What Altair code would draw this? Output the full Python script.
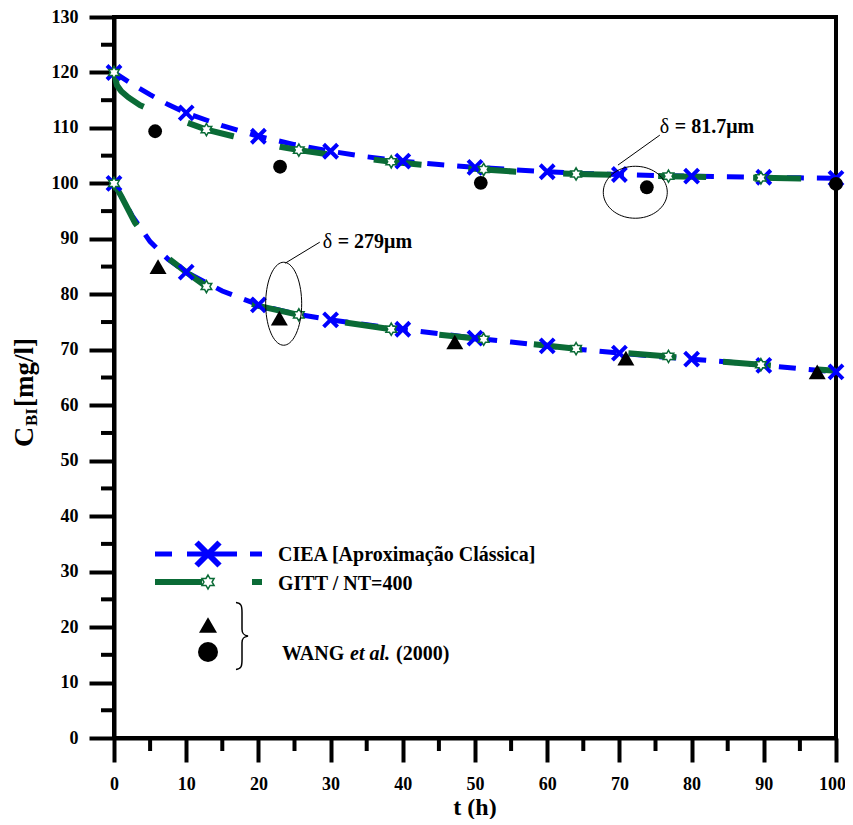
import altair as alt
import pandas as pd
import numpy as np

# ---------------- data ----------------
ciea_t = [0, 2.5, 5, 7.5, 10, 15, 20, 25, 30, 35, 40, 45, 50, 55, 60, 65, 70, 75, 80, 85, 90, 95, 100]
ciea_upper = [120.0, 117.9, 116.0, 114.2, 112.7, 110.4, 108.5, 107.0, 105.8, 104.8, 104.0, 103.4, 102.9,
              102.5, 102.1, 101.8, 101.6, 101.4, 101.3, 101.2, 101.1, 101.0, 100.9]
ciea_lower = [100.0, 94.2, 89.5, 86.3, 84.0, 80.6, 78.1, 76.5, 75.4, 74.5, 73.7, 72.9, 72.1,
              71.4, 70.7, 70.0, 69.4, 68.8, 68.3, 67.8, 67.2, 66.6, 66.0]

gitt_t_upper = [0, 0.4, 1, 2, 3.6, 6, 8, 10, 12.8, 16.5, 20, 23, 25.6, 29.4, 34, 38.4, 44, 51.2, 57,
                64, 70, 76.8, 83, 89.6, 95, 100]
gitt_upper = [120.0, 117.7, 116.6, 115.5, 114.1, 112.7, 111.8, 111.0, 109.7, 108.5, 107.4, 106.6, 106.0,
              105.3, 104.6, 103.9, 103.2, 102.5, 102.0, 101.7, 101.5, 101.3, 101.1, 101.0, 100.9, 100.8]
gitt_t_lower = [0, 1, 2, 2.9, 5, 7.8, 10, 12.8, 16, 20, 25.6, 30, 38.4, 45, 51.2, 58, 64, 70, 76.8,
                83, 89.6, 95, 100]
gitt_lower = [100.0, 97.7, 95.2, 92.9, 89.3, 86.2, 84.0, 81.4, 79.5, 77.9, 76.3, 75.3, 73.7, 72.7,
              71.9, 71.0, 70.2, 69.5, 68.8, 68.0, 67.3, 66.7, 66.2]
gitt_star_t = [0, 12.8, 25.6, 38.4, 51.2, 64, 76.8, 89.6]

wang_circle_t = [5.7, 23.0, 50.8, 73.8, 100.0]
wang_circle_c = [109.4, 103.0, 100.1, 99.3, 99.9]
wang_tri_t = [6.1, 22.9, 47.2, 70.9, 97.4]
wang_tri_c = [85.0, 75.7, 71.4, 68.5, 66.0]

x_ticks = list(range(0, 101, 10))
x_minor = list(range(5, 100, 10))
y_ticks = list(range(0, 131, 10))
y_minor = list(range(5, 130, 10))

legend_ciea = "CIEA [Aproximação Clássica]"
legend_gitt = "GITT / NT=400"

# ---------------- tables ----------------
ciea_df = pd.DataFrame({"t": ciea_t * 2, "c": ciea_upper + ciea_lower,
                        "curve": ["upper"] * len(ciea_t) + ["lower"] * len(ciea_t)})
ciea_mk = ciea_df[ciea_df["t"].isin(x_ticks)]
gitt_df = pd.DataFrame({"t": gitt_t_upper + gitt_t_lower, "c": gitt_upper + gitt_lower,
                        "curve": ["upper"] * len(gitt_t_upper) + ["lower"] * len(gitt_t_lower)})
gitt_mk = gitt_df[gitt_df["t"].isin(gitt_star_t)]
circ_df = pd.DataFrame({"t": wang_circle_t, "c": wang_circle_c})
tri_df = pd.DataFrame({"t": wang_tri_t, "c": wang_tri_c})
one = pd.DataFrame({"k": [0]})

# ---------------- styles ----------------
FONT = "Liberation Serif"
BLUE = "#0000FF"
GREEN = "#0A6B36"
xs = alt.Scale(domain=[0, 100], nice=False, zero=False)
ys = alt.Scale(domain=[0, 130], nice=False, zero=False)

X_PATH = "M -1 -1 L 1 1 M -1 1 L 1 -1"
_pts = []
for k in range(12):
    a = -np.pi / 2 + k * np.pi / 6
    r = 1.0 if k % 2 == 0 else 0.577
    _pts.append(f"{r*np.cos(a):.3f} {r*np.sin(a):.3f}")
STAR_PATH = "M " + " L ".join(_pts) + " Z"


def ellipse_path(rx, ry):
    p = []
    for k in range(72):
        a = 2 * np.pi * k / 72
        p.append(f"{rx*np.cos(a):.3f} {ry*np.sin(a):.3f}")
    return "M " + " L ".join(p) + " Z"


BRACE_PATH = ("M -0.18 -1 C -0.02 -0.98 0 -0.9 0 -0.7 L 0 -0.2 C 0 -0.06 0.06 -0.02 0.18 0 "
              "C 0.06 0.02 0 0.06 0 0.2 L 0 0.7 C 0 0.9 -0.02 0.98 -0.18 1")

x_axis = alt.Axis(values=x_ticks, title=None, grid=False, tickSize=24, tickWidth=4, tickColor="black",
                  domainWidth=4, domainColor="black", labelFont=FONT, labelFontWeight="bold",
                  labelFontSize=18, labelColor="black", labelPadding=13, labelFlush=False,
                  labelOverlap=False, format="d",
                  labelOffset={"condition": {"test": "datum.value === 100", "value": -4}, "value": 0})
y_axis = alt.Axis(values=y_ticks, title=None, grid=False, tickSize=25, tickWidth=4, tickColor="black",
                  domainWidth=4, domainColor="black", labelFont=FONT, labelFontWeight="bold",
                  labelFontSize=18, labelColor="black", labelPadding=11, labelFlush=False,
                  labelOverlap=False, format="d")


def X(**kw):
    return alt.X("t:Q", scale=xs, axis=x_axis, **kw)


def Y(**kw):
    return alt.Y("c:Q", scale=ys, axis=y_axis, **kw)


# ---------------- layers ----------------
blue_lines = alt.Chart(ciea_df).mark_line(color=BLUE, strokeWidth=5, strokeDash=[17, 13],
                                          strokeCap="butt").encode(
    x=X(), y=Y(), detail="curve:N", order="t:Q")

minor_x = alt.Chart(pd.DataFrame({"t": x_minor})).mark_rule(color="black", strokeWidth=4).encode(
    x=X(), y=alt.value(721), y2=alt.value(734))
minor_y = alt.Chart(pd.DataFrame({"c": y_minor})).mark_rule(color="black", strokeWidth=4).encode(
    y=Y(), x=alt.value(0), x2=alt.value(-13))

green_lines = alt.Chart(gitt_df).mark_line(color=GREEN, strokeWidth=6, strokeDash=[48, 47],
                                           strokeCap="butt").encode(
    x=X(), y=Y(), detail="curve:N", order="t:Q")

blue_x = alt.Chart(ciea_mk).mark_point(shape=X_PATH, filled=False, color=BLUE, strokeWidth=4,
                                       size=196, opacity=1).encode(x=X(), y=Y())
green_star = alt.Chart(gitt_mk).mark_point(shape=STAR_PATH, filled=True, fill="white", stroke=GREEN,
                                           strokeWidth=1.5, size=150, opacity=1).encode(x=X(), y=Y())
tris = alt.Chart(tri_df).mark_point(shape="triangle-up", filled=True, color="black", size=289,
                                    opacity=1).encode(x=X(), y=Y())
circs = alt.Chart(circ_df).mark_point(shape="circle", filled=True, color="black", size=190,
                                      opacity=1).encode(x=X(), y=Y())

# annotations (data coordinates)
ell1 = alt.Chart(pd.DataFrame({"t": [72.2], "c": [98.4]})).mark_point(
    shape=ellipse_path(1, 0.8125), filled=False, color="black", strokeWidth=1, size=64 ** 2,
    opacity=1).encode(x=X(), y=Y())
ell2 = alt.Chart(pd.DataFrame({"t": [23.5], "c": [78.3]})).mark_point(
    shape=ellipse_path(0.434, 1), filled=False, color="black", strokeWidth=1, size=83 ** 2,
    opacity=1).encode(x=X(), y=Y())
lead = alt.Chart(pd.DataFrame({"t": [69.8, 23.7], "c": [103.3, 85.6], "t2": [75.6, 28.5],
                               "c2": [108.7, 89.4]})).mark_rule(color="black", strokeWidth=1).encode(
    x=X(), y=Y(), x2="t2:Q", y2="c2:Q")
delta = alt.Chart(pd.DataFrame({"t": [75.6, 28.9], "c": [109.1, 88.4]})).mark_text(
    text="δ", font=FONT, fontSize=20, align="left", baseline="alphabetic", color="black").encode(
    x=X(), y=Y())
dtxt = alt.Chart(pd.DataFrame({"t": [75.6, 28.9], "c": [109.1, 88.4],
                               "s": ["= 81.7μm", "= 279μm"]})).mark_text(
    font=FONT, fontSize=20, fontWeight="bold", align="left", baseline="alphabetic", dx=15,
    color="black").encode(x=X(), y=Y(), text="s:N")


# legend (pixel positions inside the plot area)
def seg(x1, x2, y, color, w):
    return alt.Chart(one).mark_rule(color=color, strokeWidth=w, strokeCap="butt").encode(
        x=alt.value(x1), x2=alt.value(x2), y=alt.value(y))


def label(txt, x, y, size=20, style="normal", angle=0, weight="bold", align="left"):
    return alt.Chart(one).mark_text(text=txt, font=FONT, fontSize=size, fontWeight=weight,
                                    fontStyle=style, angle=angle, align=align,
                                    baseline="alphabetic", color="black").encode(
        x=alt.value(x), y=alt.value(y))


leg = [
    seg(41, 58, 537, BLUE, 5), seg(73, 123, 537, BLUE, 5), seg(136, 148, 537, BLUE, 5),
    seg(41, 88, 565, GREEN, 6), seg(138, 148, 565, GREEN, 6),
    alt.Chart(one).mark_point(shape=X_PATH, filled=False, color=BLUE, strokeWidth=6, size=23 ** 2,
                              opacity=1).encode(x=alt.value(94), y=alt.value(537)),
    alt.Chart(one).mark_point(shape=STAR_PATH, filled=True, fill="white", stroke=GREEN,
                              strokeWidth=1.5, size=14 ** 2, opacity=1).encode(
        x=alt.value(94), y=alt.value(565)),
    alt.Chart(one).mark_point(shape="triangle-up", filled=True, color="black", size=18 ** 2,
                              opacity=1).encode(x=alt.value(94), y=alt.value(608)),
    alt.Chart(one).mark_point(shape="circle", filled=True, color="black", size=400,
                              opacity=1).encode(x=alt.value(94), y=alt.value(635)),
    alt.Chart(one).mark_point(shape=BRACE_PATH, filled=False, color="black", strokeWidth=1.5,
                              size=67 ** 2, opacity=1).encode(x=alt.value(128), y=alt.value(619)),
    label(legend_ciea, 164, 544),
    label(legend_gitt, 164, 573),
    label("WANG", 168, 643),
    label("et al.", 236, 643, style="italic"),
    label("(2000)", 282, 643),
]

# axis titles
titles = [
    label("t (h)", 361, 798, size=24, align="center"),
    label("C", -81, 430, size=28, angle=270),
    label("BI", -77, 409, size=17, angle=270),
    label("[mg/l]", -81, 390, size=27, angle=270),
]

chart = alt.layer(
    blue_lines, minor_x, minor_y, green_lines, blue_x, green_star, tris, circs,
    ell1, ell2, lead, delta, dtxt, *leg, *titles
).properties(
    width=722, height=721,
    padding={"left": 106, "top": 9, "right": 9, "bottom": 81},
    autosize=alt.AutoSizeParams(type="none"),
    background="white",
).configure_view(stroke="black", strokeWidth=4)

chart.save("out.html", embed_options={"renderer": "svg", "actions": False})
